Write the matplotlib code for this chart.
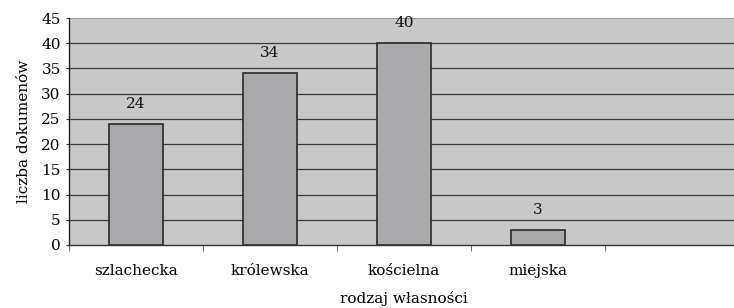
import matplotlib
matplotlib.use("Agg")
import matplotlib.pyplot as plt
import numpy as np

categories = ["szlachecka", "królewska", "kościelna", "miejska"]
values = [24, 34, 40, 3]
yticks = [0, 5, 10, 15, 20, 25, 30, 35, 40, 45]

plt.rcParams['font.family'] = ['DejaVu Serif']
FS = 11

fig = plt.figure(figsize=(7.34, 3.08), dpi=100)
ax = fig.add_axes([69/734, 1-245/308, 670/734, (245-18)/308])
ax.set_facecolor('#c8c8c9')

x = np.arange(len(categories))
ax.bar(x, values, width=0.4, color='#a9a9ac', edgecolor='#2a2a2a', linewidth=1.2, zorder=3)
for xi, v in zip(x, values):
    ax.annotate(str(v), (xi, v), xytext=(0, 14.5), textcoords='offset points',
                ha='center', va='center', fontsize=FS, color='#111111')

ax.set_xlim(-0.5, 4.5)
ax.set_ylim(0, 45)
ax.set_yticks(yticks)
ax.tick_params(axis='y', length=2, labelsize=FS, pad=4, color='#333333')
for t in yticks[1:-1]:
    ax.axhline(t, color='#3a3a3a', linewidth=0.9, zorder=1)
ax.axhline(45, color='#8a8a8a', linewidth=1.2, zorder=1)

ax.set_xticks(x)
ax.set_xticklabels(categories)
ax.set_xticks(np.arange(-0.5, 4.6, 1.0), minor=True)
ax.tick_params(axis='x', which='major', length=0, labelsize=FS, pad=14)
ax.tick_params(axis='x', which='minor', length=4, color='#555555')

for s in ['top', 'right']:
    ax.spines[s].set_visible(False)
ax.spines['left'].set_color('#222222')
ax.spines['bottom'].set_color('#333333')
ax.spines['left'].set_linewidth(1.0)
ax.spines['bottom'].set_linewidth(1.0)

ax.set_ylabel("liczba dokumenów", fontsize=FS, labelpad=7)
ax.set_xlabel("rodzaj własności", fontsize=FS, labelpad=9)

fig.savefig("out.png", dpi=100)
